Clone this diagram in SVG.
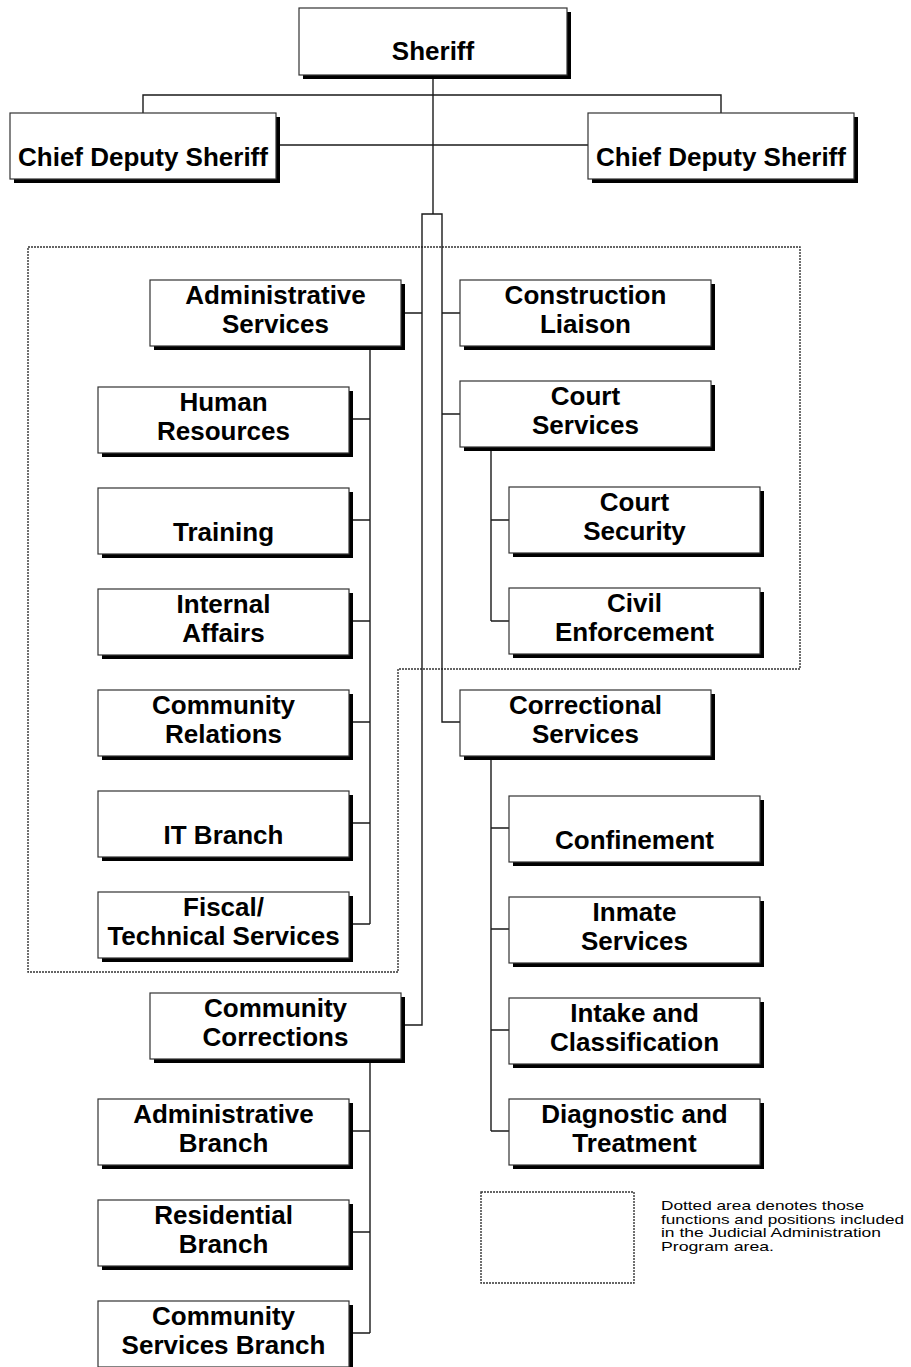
<svg xmlns="http://www.w3.org/2000/svg" width="911" height="1367" viewBox="0 0 911 1367">
<style>
.sh{fill:#000}
.bx{fill:#fff;stroke:#333;stroke-width:1.2}
.t{font-family:"Liberation Sans",Arial,sans-serif;font-weight:bold;font-size:26px;fill:#000;text-anchor:middle}
.ln{fill:none;stroke:#1a1a1a;stroke-width:1.4}
.dot{fill:none;stroke:#333;stroke-width:1.4;stroke-dasharray:2 1}
.lg{font-family:"Liberation Sans",Arial,sans-serif;font-size:13.5px;fill:#000}
</style>
<rect width="911" height="1367" fill="#fff"/>
<g id="dotted-area">
<path class="dot" d="M28 247 H800 V669 H398 V972 H28 Z"/>
</g>
<g id="connectors">
<path class="ln" d="M433 75 V214"/>
<path class="ln" d="M143 113 V95 H721 V113"/>
<path class="ln" d="M276 145 H588"/>
<path class="ln" d="M401 1025 H422 V214 H442 V722 H460"/>
<path class="ln" d="M401 313 H422 M442 313 H460 M442 414 H460"/>
<path class="ln" d="M491 447 V621 M491 520 H509 M491 621 H509"/>
<path class="ln" d="M491 755 V1131 M491 828 H509 M491 929 H509 M491 1030 H509 M491 1131 H509"/>
<path class="ln" d="M370 346 V924 M349 419 H370 M349 520 H370 M349 621 H370 M349 722 H370 M349 823 H370 M349 924 H370"/>
<path class="ln" d="M370 1059 V1333 M349 1131 H370 M349 1232 H370 M349 1333 H370"/>
</g>
<g id="sheriff"><rect class="sh" x="303" y="12" width="268" height="67"/><rect class="bx" x="299" y="8" width="268" height="67"/><text class="t" x="433" y="60">Sheriff</text></g>
<g id="chief-deputy-left"><rect class="sh" x="14" y="117" width="266" height="66"/><rect class="bx" x="10" y="113" width="266" height="66"/><text class="t" x="143" y="166">Chief Deputy Sheriff</text></g>
<g id="chief-deputy-right"><rect class="sh" x="592" y="117" width="266" height="66"/><rect class="bx" x="588" y="113" width="266" height="66"/><text class="t" x="721" y="166">Chief Deputy Sheriff</text></g>
<g id="administrative-services"><rect class="sh" x="154" y="284" width="251" height="66"/><rect class="bx" x="150" y="280" width="251" height="66"/><text class="t" x="275.5" y="304">Administrative</text><text class="t" x="275.5" y="333">Services</text></g>
<g id="construction-liaison"><rect class="sh" x="464" y="284" width="251" height="66"/><rect class="bx" x="460" y="280" width="251" height="66"/><text class="t" x="585.5" y="304">Construction</text><text class="t" x="585.5" y="333">Liaison</text></g>
<g id="court-services"><rect class="sh" x="464" y="385" width="251" height="66"/><rect class="bx" x="460" y="381" width="251" height="66"/><text class="t" x="585.5" y="405">Court</text><text class="t" x="585.5" y="434">Services</text></g>
<g id="court-security"><rect class="sh" x="513" y="491" width="251" height="66"/><rect class="bx" x="509" y="487" width="251" height="66"/><text class="t" x="634.5" y="511">Court</text><text class="t" x="634.5" y="540">Security</text></g>
<g id="civil-enforcement"><rect class="sh" x="513" y="592" width="251" height="66"/><rect class="bx" x="509" y="588" width="251" height="66"/><text class="t" x="634.5" y="612">Civil</text><text class="t" x="634.5" y="641">Enforcement</text></g>
<g id="correctional-services"><rect class="sh" x="464" y="694" width="251" height="66"/><rect class="bx" x="460" y="690" width="251" height="66"/><text class="t" x="585.5" y="714">Correctional</text><text class="t" x="585.5" y="743">Services</text></g>
<g id="confinement"><rect class="sh" x="513" y="800" width="251" height="66"/><rect class="bx" x="509" y="796" width="251" height="66"/><text class="t" x="634.5" y="849">Confinement</text></g>
<g id="inmate-services"><rect class="sh" x="513" y="901" width="251" height="66"/><rect class="bx" x="509" y="897" width="251" height="66"/><text class="t" x="634.5" y="921">Inmate</text><text class="t" x="634.5" y="950">Services</text></g>
<g id="intake-classification"><rect class="sh" x="513" y="1002" width="251" height="66"/><rect class="bx" x="509" y="998" width="251" height="66"/><text class="t" x="634.5" y="1022">Intake and</text><text class="t" x="634.5" y="1051">Classification</text></g>
<g id="diagnostic-treatment"><rect class="sh" x="513" y="1103" width="251" height="66"/><rect class="bx" x="509" y="1099" width="251" height="66"/><text class="t" x="634.5" y="1123">Diagnostic and</text><text class="t" x="634.5" y="1152">Treatment</text></g>
<g id="human-resources"><rect class="sh" x="102" y="391" width="251" height="66"/><rect class="bx" x="98" y="387" width="251" height="66"/><text class="t" x="223.5" y="411">Human</text><text class="t" x="223.5" y="440">Resources</text></g>
<g id="training"><rect class="sh" x="102" y="492" width="251" height="66"/><rect class="bx" x="98" y="488" width="251" height="66"/><text class="t" x="223.5" y="541">Training</text></g>
<g id="internal-affairs"><rect class="sh" x="102" y="593" width="251" height="66"/><rect class="bx" x="98" y="589" width="251" height="66"/><text class="t" x="223.5" y="613">Internal</text><text class="t" x="223.5" y="642">Affairs</text></g>
<g id="community-relations"><rect class="sh" x="102" y="694" width="251" height="66"/><rect class="bx" x="98" y="690" width="251" height="66"/><text class="t" x="223.5" y="714">Community</text><text class="t" x="223.5" y="743">Relations</text></g>
<g id="it-branch"><rect class="sh" x="102" y="795" width="251" height="66"/><rect class="bx" x="98" y="791" width="251" height="66"/><text class="t" x="223.5" y="844">IT Branch</text></g>
<g id="fiscal-technical"><rect class="sh" x="102" y="896" width="251" height="66"/><rect class="bx" x="98" y="892" width="251" height="66"/><text class="t" x="223.5" y="916">Fiscal/</text><text class="t" x="223.5" y="945">Technical Services</text></g>
<g id="community-corrections"><rect class="sh" x="154" y="997" width="251" height="66"/><rect class="bx" x="150" y="993" width="251" height="66"/><text class="t" x="275.5" y="1017">Community</text><text class="t" x="275.5" y="1046">Corrections</text></g>
<g id="administrative-branch"><rect class="sh" x="102" y="1103" width="251" height="66"/><rect class="bx" x="98" y="1099" width="251" height="66"/><text class="t" x="223.5" y="1123">Administrative</text><text class="t" x="223.5" y="1152">Branch</text></g>
<g id="residential-branch"><rect class="sh" x="102" y="1204" width="251" height="66"/><rect class="bx" x="98" y="1200" width="251" height="66"/><text class="t" x="223.5" y="1224">Residential</text><text class="t" x="223.5" y="1253">Branch</text></g>
<g id="community-services-branch"><rect class="sh" x="102" y="1305" width="251" height="66"/><rect class="bx" x="98" y="1301" width="251" height="66"/><text class="t" x="223.5" y="1325">Community</text><text class="t" x="223.5" y="1354">Services Branch</text></g>
<g id="legend">
<rect class="dot" x="481" y="1192" width="153" height="91"/>
<text class="lg" x="661" y="1210" textLength="203" lengthAdjust="spacingAndGlyphs">Dotted area denotes those</text>
<text class="lg" x="661" y="1223.5" textLength="243" lengthAdjust="spacingAndGlyphs">functions and positions included</text>
<text class="lg" x="661" y="1237" textLength="220" lengthAdjust="spacingAndGlyphs">in the Judicial Administration</text>
<text class="lg" x="661" y="1250.5" textLength="113" lengthAdjust="spacingAndGlyphs">Program area.</text>
</g>
</svg>
